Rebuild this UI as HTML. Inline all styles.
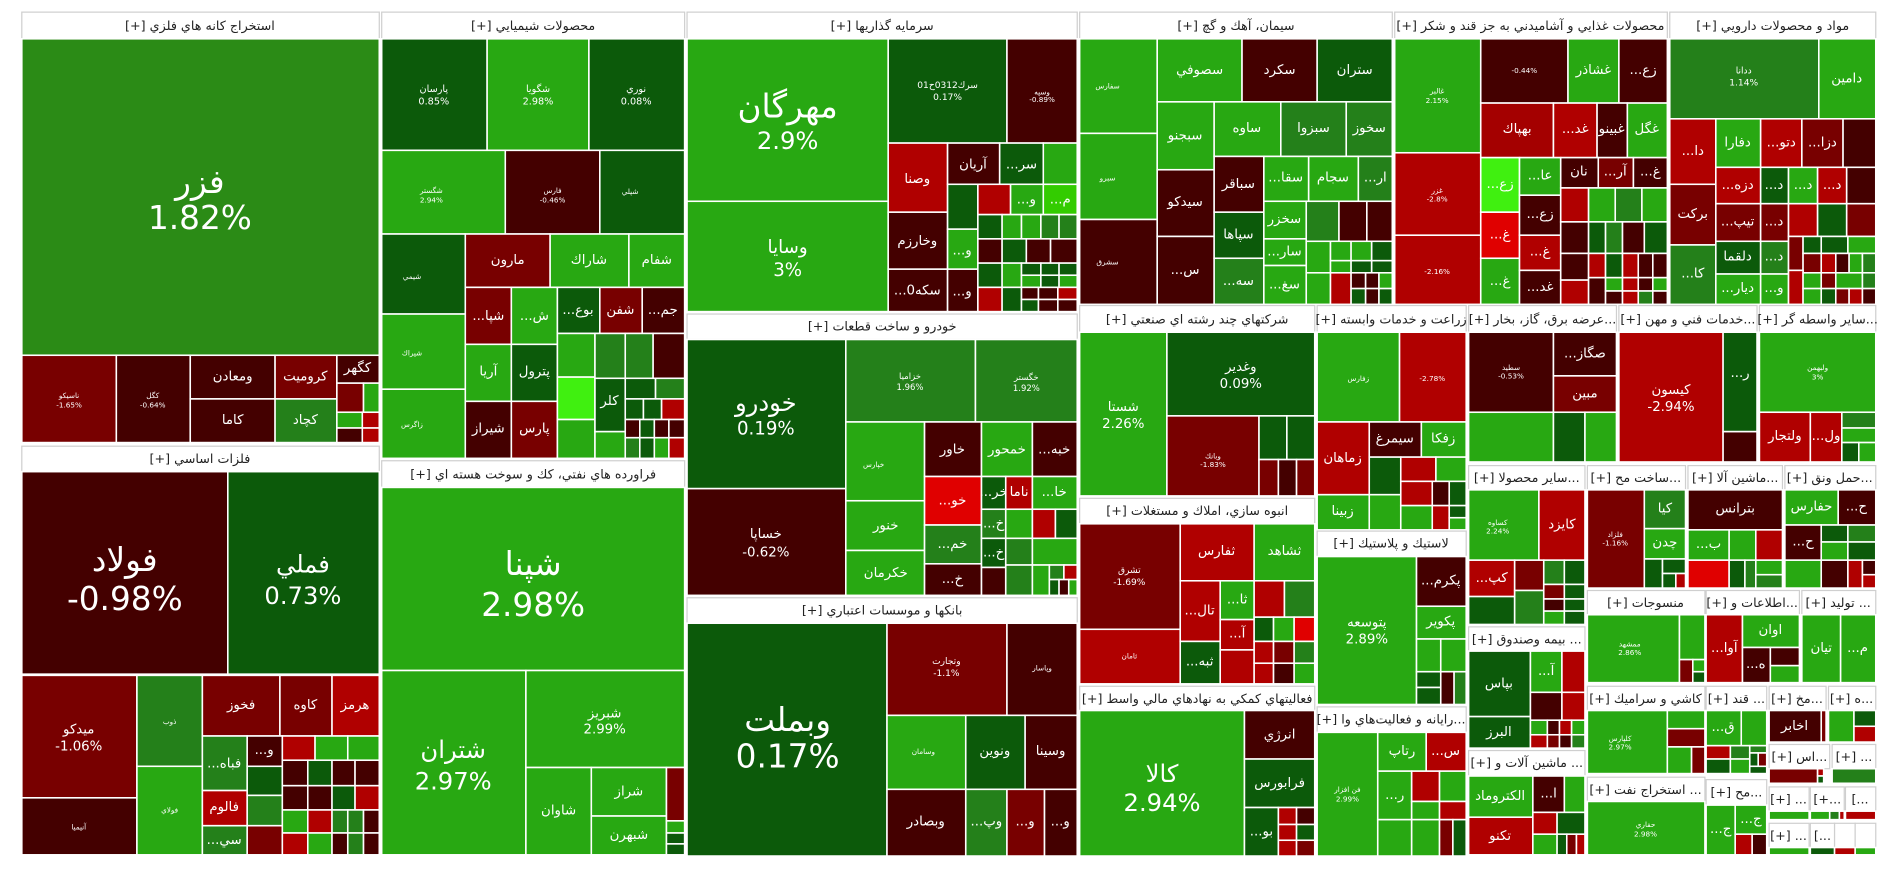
<!DOCTYPE html>
<html><head><meta charset="utf-8"><style>
html,body{margin:0;padding:0;background:#fff;width:1900px;height:873px;overflow:hidden}
svg{display:block}
rect{stroke:#fff;stroke-width:1.3}
.dg{fill:#0c5a0a}.mg{fill:#24801a}.bg{fill:#28a812}.fz{fill:#2b8b16}
.dr{fill:#440000}.mr{fill:#780000}.br{fill:#b00000}.lg{fill:#40f010}.rd{fill:#e00000}
.hd{fill:#fff;stroke:#cfcfcf;stroke-width:1}
text{fill:#fff;font-family:"DejaVu Sans","Liberation Sans",sans-serif;text-anchor:middle;dominant-baseline:central}
text.h{fill:#222;font-size:10.5px;direction:rtl;unicode-bidi:embed}
.s{font-size:11px}.xs{font-size:6px}.m{font-size:15px}.l{font-size:20px}.xl{font-size:27px}
</style></head><body>
<svg width="1900" height="873" viewBox="0 0 1568 720" preserveAspectRatio="none" xmlns="http://www.w3.org/2000/svg">
<!-- Panel 1 -->
<rect class="hd" x="18" y="10" width="295" height="22"/><text class="h" x="165" y="21">استخراج كانه هاي فلزي [+]</text>
<rect class="fz" x="18" y="32" width="295" height="261"/><text class="xl" x="165" y="150">فزر</text><text class="xl" x="165" y="180">1.82%</text>
<rect class="mr" x="18" y="293" width="78" height="72"/><text class="xs" x="57" y="326">ناسيكو</text><text class="xs" x="57" y="334">-1.65%</text>
<rect class="dr" x="96" y="293" width="61" height="72"/><text class="xs" x="126" y="326">كگل</text><text class="xs" x="126" y="334">-0.64%</text>
<rect class="dr" x="157" y="293" width="70" height="36"/><text class="s" x="192" y="311">ومعادن</text>
<rect class="dr" x="157" y="329" width="70" height="36"/><text class="s" x="192" y="347">كاما</text>
<rect class="mr" x="227" y="293" width="51" height="36"/><text class="s" x="252" y="311">كروميت</text>
<rect class="mg" x="227" y="329" width="51" height="36"/><text class="s" x="252" y="347">كچاد</text>
<rect class="dr" x="278" y="293" width="35" height="23"/><text class="s" x="295" y="304">كگهر</text>
<rect class="mr" x="278" y="316" width="22" height="24"/><rect class="bg" x="300" y="316" width="13" height="24"/>
<rect class="bg" x="278" y="340" width="21" height="13"/><rect class="br" x="299" y="340" width="14" height="13"/>
<rect class="dr" x="278" y="353" width="21" height="12"/><rect class="br" x="299" y="353" width="14" height="12"/>
<!-- Felezat asasi -->
<rect class="hd" x="18" y="368" width="295" height="21"/><text class="h" x="165" y="378">فلزات اساسي [+]</text>
<rect class="dr" x="18" y="389" width="170" height="167"/><text class="xl" x="103" y="462">فولاد</text><text class="xl" x="103" y="494">-0.98%</text>
<rect class="dg" x="188" y="389" width="125" height="167"/><text class="l" x="250" y="465">فملي</text><text class="l" x="250" y="491">0.73%</text>
<rect class="mr" x="18" y="557" width="95" height="101"/><text class="s" x="65" y="602">ميدكو</text><text class="s" x="65" y="616">-1.06%</text>
<rect class="dr" x="18" y="658" width="95" height="47"/><text class="xs" x="65" y="682">آنيميا</text>
<rect class="mg" x="113" y="557" width="54" height="75"/><text class="xs" x="140" y="595">ذوب</text>
<rect class="bg" x="113" y="632" width="54" height="73"/><text class="xs" x="140" y="668">فولاي</text>
<rect class="mr" x="167" y="557" width="64" height="50"/><text class="s" x="199" y="582">فخوز</text>
<rect class="mr" x="231" y="557" width="43" height="50"/><text class="s" x="252" y="582">كاوه</text>
<rect class="br" x="274" y="557" width="39" height="50"/><text class="s" x="293" y="582">هرمز</text>
<rect class="mg" x="167" y="607" width="37" height="45"/><text class="s" x="185" y="630">...فباه</text>
<rect class="br" x="167" y="652" width="37" height="29"/><text class="s" x="185" y="666">فالوم</text>
<rect class="mg" x="167" y="681" width="37" height="24"/><text class="s" x="185" y="693">...سي</text>
<rect class="dr" x="204" y="607" width="29" height="25"/><text class="s" x="218" y="619">...و</text>
<rect class="dg" x="204" y="632" width="29" height="24"/><rect class="mg" x="204" y="656" width="29" height="25"/><rect class="mr" x="204" y="681" width="29" height="24"/>
<rect class="br" x="233" y="607" width="27" height="20"/><rect class="bg" x="260" y="607" width="27" height="20"/><rect class="bg" x="287" y="607" width="26" height="20"/>
<rect class="dr" x="233" y="627" width="21" height="21"/><rect class="dg" x="254" y="627" width="20" height="21"/><rect class="dr" x="274" y="627" width="19" height="21"/><rect class="dr" x="293" y="627" width="20" height="21"/>
<rect class="dr" x="233" y="648" width="21" height="20"/><rect class="dr" x="254" y="648" width="20" height="20"/><rect class="dg" x="274" y="648" width="19" height="20"/><rect class="br" x="293" y="648" width="20" height="20"/>
<rect class="bg" x="233" y="668" width="21" height="19"/><rect class="br" x="254" y="668" width="20" height="19"/><rect class="mg" x="274" y="668" width="13" height="19"/><rect class="mg" x="287" y="668" width="13" height="19"/><rect class="dr" x="300" y="668" width="13" height="19"/>
<rect class="br" x="233" y="687" width="21" height="18"/><rect class="bg" x="254" y="687" width="20" height="18"/><rect class="dr" x="274" y="687" width="13" height="18"/><rect class="mg" x="287" y="687" width="13" height="18"/><rect class="dr" x="300" y="687" width="13" height="18"/>
<!-- Chemicals -->
<rect class="hd" x="315" y="10" width="250" height="22"/><text class="h" x="440" y="21">محصولات شيميايي [+]</text>
<rect class="dg" x="315" y="32" width="87" height="92"/><text class="xs" x="358" y="74" style="font-size:8px">پارسان</text><text class="xs" x="358" y="84" style="font-size:8px">0.85%</text>
<rect class="bg" x="402" y="32" width="84" height="92"/><text class="xs" x="444" y="74" style="font-size:8px">شگويا</text><text class="xs" x="444" y="84" style="font-size:8px">2.98%</text>
<rect class="dg" x="486" y="32" width="79" height="92"/><text class="xs" x="525" y="74" style="font-size:8px">نوري</text><text class="xs" x="525" y="84" style="font-size:8px">0.08%</text>
<rect class="bg" x="315" y="124" width="102" height="69"/><text class="xs" x="356" y="157">شگستر</text><text class="xs" x="356" y="165">2.94%</text>
<rect class="dr" x="417" y="124" width="78" height="69"/><text class="xs" x="456" y="157">فارس</text><text class="xs" x="456" y="165">-0.46%</text>
<rect class="dg" x="495" y="124" width="70" height="69"/><text class="xs" x="520" y="158">شپلي</text>
<rect class="dg" x="315" y="193" width="69" height="66"/><text class="xs" x="340" y="228">شيمي</text>
<rect class="bg" x="315" y="259" width="69" height="62"/><text class="xs" x="340" y="291">شيراك</text>
<rect class="bg" x="315" y="321" width="69" height="57"/><text class="xs" x="340" y="350">زاگرس</text>
<rect class="mr" x="384" y="193" width="70" height="44"/><text class="s" x="419" y="215">مارون</text>
<rect class="bg" x="454" y="193" width="65" height="44"/><text class="s" x="486" y="215">شاراك</text>
<rect class="bg" x="519" y="193" width="46" height="44"/><text class="s" x="542" y="215">شفام</text>
<rect class="mr" x="384" y="237" width="38" height="47"/><text class="s" x="403" y="261">...شپا</text>
<rect class="bg" x="422" y="237" width="38" height="47"/><text class="s" x="441" y="261">...ش</text>
<rect class="dg" x="460" y="237" width="35" height="38"/><text class="s" x="477" y="256">...بوع</text>
<rect class="mr" x="495" y="237" width="35" height="38"/><text class="s" x="512" y="256">شفن</text>
<rect class="dr" x="530" y="237" width="35" height="38"/><text class="s" x="547" y="256">...جم</text>
<rect class="bg" x="384" y="284" width="38" height="47"/><text class="s" x="403" y="307">آريا</text>
<rect class="dr" x="384" y="331" width="38" height="47"/><text class="s" x="403" y="354">شيراز</text>
<rect class="dg" x="422" y="284" width="38" height="47"/><text class="s" x="441" y="307">پترول</text>
<rect class="mr" x="422" y="331" width="38" height="47"/><text class="s" x="441" y="354">پارس</text>
<rect class="bg" x="460" y="275" width="31" height="36"/><rect class="lg" x="460" y="311" width="31" height="35"/><rect class="bg" x="460" y="346" width="31" height="32"/>
<rect class="mg" x="491" y="275" width="25" height="37"/><rect class="mg" x="516" y="275" width="23" height="37"/><rect class="dr" x="539" y="275" width="26" height="37"/>
<rect class="dg" x="491" y="312" width="25" height="44"/><text class="s" x="503" y="331">كلر</text>
<rect class="dg" x="516" y="312" width="25" height="17"/><rect class="mg" x="541" y="312" width="24" height="17"/>
<rect class="dg" x="516" y="329" width="15" height="17"/><rect class="dg" x="531" y="329" width="15" height="17"/><rect class="br" x="546" y="329" width="19" height="17"/>
<rect class="bg" x="491" y="356" width="25" height="22"/>
<rect class="dr" x="516" y="346" width="12" height="15"/><rect class="dg" x="528" y="346" width="12" height="15"/><rect class="dr" x="540" y="346" width="12" height="15"/><rect class="dr" x="552" y="346" width="13" height="15"/>
<rect class="mg" x="516" y="361" width="12" height="17"/><rect class="dg" x="528" y="361" width="12" height="17"/><rect class="bg" x="540" y="361" width="12" height="17"/><rect class="br" x="552" y="361" width="13" height="17"/>
<!-- Petroleum -->
<rect class="hd" x="315" y="380" width="250" height="22"/><text class="h" x="440" y="391">فراورده هاي نفتي، كك و سوخت هسته اي [+]</text>
<rect class="bg" x="315" y="402" width="250" height="151"/><text class="xl" x="440" y="465">شپنا</text><text class="xl" x="440" y="499">2.98%</text>
<rect class="bg" x="315" y="553" width="119" height="152"/><text class="l" x="374" y="618">شتران</text><text class="l" x="374" y="644">2.97%</text>
<rect class="bg" x="434" y="553" width="131" height="80"/><text class="s" x="499" y="589">شبريز</text><text class="s" x="499" y="602">2.99%</text>
<rect class="bg" x="434" y="633" width="54" height="72"/><text class="s" x="461" y="669">شاوان</text>
<rect class="bg" x="488" y="633" width="62" height="40"/><text class="s" x="519" y="653">شراز</text>
<rect class="bg" x="488" y="673" width="62" height="32"/><text class="s" x="519" y="689">شبهرن</text>
<rect class="mr" x="550" y="633" width="15" height="44"/><rect class="bg" x="550" y="677" width="15" height="10"/><rect class="dg" x="550" y="687" width="15" height="9"/><rect class="dg" x="550" y="696" width="15" height="9"/>
<!-- Sarmayeh -->
<rect class="hd" x="567" y="10" width="322" height="22"/><text class="h" x="728" y="21">سرمايه گذاريها [+]</text>
<rect class="bg" x="567" y="32" width="166" height="134"/><text class="xl" x="650" y="88">مهرگان</text><text class="l" x="650" y="116">2.9%</text>
<rect class="bg" x="567" y="166" width="166" height="91"/><text class="m" x="650" y="204">وسايا</text><text class="m" x="650" y="223">3%</text>
<rect class="dg" x="733" y="32" width="98" height="86"/><text class="xs" x="782" y="71" style="font-size:7.5px">سرك0312ح01</text><text class="xs" x="782" y="81" style="font-size:7.5px">0.17%</text>
<rect class="dr" x="831" y="32" width="58" height="86"/><text class="xs" x="860" y="76">وسپه</text><text class="xs" x="860" y="82">-0.89%</text>
<rect class="br" x="733" y="118" width="49" height="57"/><text class="s" x="757" y="148">وصنا</text>
<rect class="dr" x="782" y="118" width="43" height="34"/><text class="s" x="803" y="136">آريان</text>
<rect class="dg" x="825" y="118" width="36" height="34"/><text class="s" x="843" y="136">...سر</text>
<rect class="bg" x="861" y="118" width="28" height="34"/>
<rect class="dr" x="733" y="175" width="49" height="47"/><text class="s" x="757" y="199">وخارزم</text>
<rect class="dr" x="733" y="222" width="49" height="35"/><text class="s" x="757" y="240">...سكه0</text>
<rect class="dg" x="782" y="152" width="25" height="37"/><rect class="bg" x="782" y="189" width="25" height="33"/><text class="s" x="794" y="207">...و</text>
<rect class="dr" x="782" y="222" width="25" height="35"/><text class="s" x="794" y="241">...و</text>
<rect class="br" x="807" y="152" width="27" height="25"/><rect class="bg" x="834" y="152" width="27" height="25"/><text class="s" x="847" y="165">...و</text>
<rect style="fill:#33cc00" x="861" y="152" width="28" height="25"/><text class="s" x="875" y="165">...م</text>
<rect class="dg" x="807" y="177" width="20" height="20"/><rect class="bg" x="827" y="177" width="16" height="20"/><rect class="bg" x="843" y="177" width="16" height="20"/><rect class="mg" x="859" y="177" width="15" height="20"/><rect class="mg" x="874" y="177" width="15" height="20"/>
<rect class="dr" x="807" y="197" width="20" height="20"/><rect class="dg" x="827" y="197" width="20" height="20"/><rect class="dr" x="847" y="197" width="20" height="20"/><rect class="dr" x="867" y="197" width="22" height="20"/>
<rect class="dg" x="807" y="217" width="20" height="20"/><rect class="bg" x="827" y="217" width="16" height="20"/><rect class="dg" x="843" y="217" width="16" height="10"/><rect class="dg" x="859" y="217" width="15" height="10"/><rect class="dg" x="874" y="217" width="15" height="10"/>
<rect class="bg" x="843" y="227" width="16" height="10"/><rect class="dg" x="859" y="227" width="15" height="10"/><rect class="bg" x="874" y="227" width="15" height="10"/>
<rect class="br" x="807" y="237" width="20" height="20"/><rect class="dg" x="827" y="237" width="16" height="20"/><rect class="dr" x="843" y="237" width="14" height="10"/><rect class="dr" x="857" y="237" width="16" height="10"/><rect class="br" x="873" y="237" width="16" height="10"/>
<rect class="dg" x="843" y="247" width="14" height="10"/><rect class="dr" x="857" y="247" width="16" height="10"/><rect class="dr" x="873" y="247" width="16" height="10"/>
<!-- Khodro -->
<rect class="hd" x="567" y="259" width="322" height="21"/><text class="h" x="728" y="269">خودرو و ساخت قطعات [+]</text>
<rect class="dg" x="567" y="280" width="131" height="123"/><text class="l" x="632" y="332">خودرو</text><text class="m" x="632" y="354">0.19%</text>
<rect class="dr" x="567" y="403" width="131" height="88"/><text class="s" x="632" y="441">خساپا</text><text class="s" x="632" y="456">-0.62%</text>
<rect class="mg" x="698" y="280" width="107" height="68"/><text class="xs" x="751" y="310" style="font-size:7px">خزاميا</text><text class="xs" x="751" y="319" style="font-size:7px">1.96%</text>
<rect class="mg" x="805" y="280" width="84" height="68"/><text class="xs" x="847" y="311" style="font-size:7px">خگستر</text><text class="xs" x="847" y="320" style="font-size:7px">1.92%</text>
<rect class="bg" x="698" y="348" width="65" height="65"/><text class="xs" x="721" y="383">خپارس</text>
<rect class="bg" x="698" y="413" width="65" height="41"/><text class="s" x="731" y="434">خنور</text>
<rect class="bg" x="698" y="454" width="65" height="37"/><text class="s" x="731" y="473">خكرمان</text>
<rect class="dr" x="763" y="348" width="47" height="45"/><text class="s" x="786" y="371">خاور</text>
<rect class="bg" x="810" y="348" width="42" height="45"/><text class="s" x="831" y="371">خمحور</text>
<rect class="dr" x="852" y="348" width="37" height="45"/><text class="s" x="870" y="371">...خبه</text>
<rect class="rd" x="763" y="393" width="47" height="40"/><text class="s" x="786" y="413">...خو</text>
<rect class="mg" x="763" y="433" width="47" height="32"/><text class="s" x="786" y="449">...خم</text>
<rect class="dr" x="763" y="465" width="47" height="26"/><text class="s" x="786" y="478">...خ</text>
<rect class="dg" x="810" y="393" width="20" height="27"/><text class="s" x="820" y="406">...خر</text>
<rect class="br" x="830" y="393" width="22" height="27"/><text class="s" x="841" y="406">ناما</text>
<rect class="bg" x="852" y="393" width="37" height="27"/><text class="s" x="870" y="406">...خا</text>
<rect class="mg" x="810" y="420" width="20" height="24"/><text class="s" x="820" y="432">...خ</text>
<rect class="dg" x="810" y="444" width="20" height="24"/><text class="s" x="820" y="456">...خ</text>
<rect class="bg" x="830" y="420" width="22" height="24"/><rect class="br" x="852" y="420" width="19" height="24"/><rect class="dg" x="871" y="420" width="18" height="24"/>
<rect class="mg" x="830" y="444" width="22" height="22"/><rect class="bg" x="852" y="444" width="37" height="22"/>
<rect class="dr" x="810" y="468" width="20" height="23"/><rect class="mg" x="830" y="466" width="22" height="25"/><rect class="bg" x="852" y="466" width="14" height="25"/>
<rect class="mg" x="866" y="466" width="12" height="12"/><rect class="br" x="878" y="466" width="11" height="12"/><rect class="dg" x="866" y="478" width="8" height="13"/><rect class="dr" x="874" y="478" width="8" height="13"/><rect class="bg" x="882" y="478" width="7" height="13"/>
<!-- Banks -->
<rect class="hd" x="567" y="493" width="322" height="21"/><text class="h" x="728" y="503">بانكها و موسسات اعتباري [+]</text>
<rect class="dg" x="567" y="514" width="165" height="192"/><text class="xl" x="650" y="594">وبملت</text><text class="xl" x="650" y="624">0.17%</text>
<rect class="mr" x="732" y="514" width="99" height="76"/><text class="xs" x="781" y="546" style="font-size:7.5px">وتجارت</text><text class="xs" x="781" y="556" style="font-size:7.5px">-1.1%</text>
<rect class="dr" x="831" y="514" width="58" height="76"/><text class="xs" x="860" y="551">وپاسار</text>
<rect class="bg" x="732" y="590" width="65" height="61"/><text class="xs" x="762" y="620">وسامان</text>
<rect class="dg" x="797" y="590" width="49" height="61"/><text class="s" x="821" y="620">ونوين</text>
<rect class="dr" x="846" y="590" width="43" height="61"/><text class="s" x="867" y="620">وسينا</text>
<rect class="dr" x="732" y="651" width="65" height="55"/><text class="s" x="764" y="678">وبصادر</text>
<rect class="mg" x="797" y="651" width="34" height="55"/><text class="s" x="814" y="678">...وپ</text>
<rect class="mr" x="831" y="651" width="31" height="55"/><text class="s" x="846" y="678">...و</text>
<rect class="dr" x="862" y="651" width="27" height="55"/><text class="s" x="875" y="678">...و</text>
<!-- Cement -->
<rect class="hd" x="891" y="10" width="258" height="22"/><text class="h" x="1020" y="21">سيمان، آهك و گچ [+]</text>
<rect class="bg" x="891" y="32" width="64" height="78"/><text class="xs" x="914" y="71">سفارس</text>
<rect class="bg" x="891" y="110" width="64" height="71"/><text class="xs" x="914" y="147">سبرو</text>
<rect class="dr" x="891" y="181" width="64" height="70"/><text class="xs" x="914" y="216">سشرق</text>
<rect class="bg" x="955" y="32" width="70" height="52"/><text class="s" x="990" y="58">سصوفي</text>
<rect class="dr" x="1025" y="32" width="62" height="52"/><text class="s" x="1056" y="58">سكرد</text>
<rect class="dg" x="1087" y="32" width="62" height="52"/><text class="s" x="1118" y="58">ستران</text>
<rect class="bg" x="955" y="84" width="47" height="56"/><text class="s" x="978" y="112">سبجنو</text>
<rect class="bg" x="1002" y="84" width="55" height="45"/><text class="s" x="1029" y="106">ساوه</text>
<rect class="mg" x="1057" y="84" width="54" height="45"/><text class="s" x="1084" y="106">سبزوا</text>
<rect class="mg" x="1111" y="84" width="38" height="45"/><text class="s" x="1130" y="106">سخوز</text>
<rect class="dr" x="955" y="140" width="47" height="55"/><text class="s" x="978" y="167">سيدكو</text>
<rect class="dr" x="955" y="195" width="47" height="56"/><text class="s" x="978" y="223">...س</text>
<rect class="dr" x="1002" y="129" width="41" height="46"/><text class="s" x="1022" y="152">سباقر</text>
<rect class="dg" x="1002" y="175" width="41" height="38"/><text class="s" x="1022" y="194">سپاها</text>
<rect class="mg" x="1002" y="213" width="41" height="38"/><text class="s" x="1022" y="232">...سه</text>
<rect class="bg" x="1043" y="129" width="37" height="37"/><text class="s" x="1061" y="147">...سقا</text>
<rect class="bg" x="1080" y="129" width="41" height="37"/><text class="s" x="1100" y="147">سجام</text>
<rect class="mg" x="1121" y="129" width="28" height="37"/><text class="s" x="1135" y="147">...ار</text>
<rect class="bg" x="1043" y="166" width="35" height="31"/><text class="s" x="1060" y="181">سخزر</text>
<rect class="bg" x="1043" y="197" width="35" height="22"/><text class="s" x="1060" y="208">...سار</text>
<rect class="bg" x="1043" y="219" width="35" height="32"/><text class="s" x="1060" y="235">...سغ</text>
<rect class="mg" x="1078" y="166" width="27" height="33"/><rect class="dr" x="1105" y="166" width="23" height="33"/><rect class="dr" x="1128" y="166" width="21" height="33"/>
<rect class="bg" x="1078" y="199" width="20" height="26"/><rect class="bg" x="1098" y="199" width="17" height="16"/><rect class="bg" x="1115" y="199" width="17" height="16"/><rect class="dg" x="1132" y="199" width="17" height="16"/>
<rect class="bg" x="1098" y="215" width="17" height="10"/><rect class="dg" x="1115" y="215" width="17" height="10"/><rect class="dg" x="1132" y="215" width="17" height="10"/>
<rect class="bg" x="1078" y="225" width="20" height="26"/><rect class="br" x="1098" y="225" width="17" height="26"/><rect class="dr" x="1115" y="225" width="12" height="13"/><rect class="dr" x="1127" y="225" width="11" height="13"/><rect class="bg" x="1138" y="225" width="11" height="13"/>
<rect class="dg" x="1115" y="238" width="12" height="13"/><rect class="dr" x="1127" y="238" width="11" height="13"/><rect class="dg" x="1138" y="238" width="11" height="13"/>
<!-- Food -->
<rect class="hd" x="1151" y="10" width="225" height="22"/><text class="h" x="1263" y="21">محصولات غذايي و آشاميدني به جز قند و شكر [+]</text>
<rect class="bg" x="1151" y="32" width="71" height="94"/><text class="xs" x="1186" y="75">غالبر</text><text class="xs" x="1186" y="83">2.15%</text>
<rect class="br" x="1151" y="126" width="71" height="68"/><text class="xs" x="1186" y="157">غزر</text><text class="xs" x="1186" y="164">-2.8%</text>
<rect class="br" x="1151" y="194" width="71" height="57"/><text class="xs" x="1186" y="224">-2.16%</text>
<rect class="dr" x="1222" y="32" width="72" height="53"/><text class="xs" x="1258" y="58">-0.44%</text>
<rect class="bg" x="1294" y="32" width="42" height="53"/><text class="s" x="1315" y="58">غشاذر</text>
<rect class="dr" x="1336" y="32" width="40" height="53"/><text class="s" x="1356" y="58">...زع</text>
<rect style="fill:#a40000" x="1222" y="85" width="60" height="45"/><text class="s" x="1252" y="107">بهپاك</text>
<rect class="br" x="1282" y="85" width="36" height="45"/><text class="s" x="1300" y="107">...غد</text>
<rect class="dr" x="1318" y="85" width="25" height="45"/><text class="s" x="1330" y="107">غبينو</text>
<rect class="bg" x="1343" y="85" width="33" height="45"/><text class="s" x="1359" y="107">غگل</text>
<rect class="lg" x="1222" y="130" width="32" height="45"/><text class="s" x="1238" y="152">...زع</text>
<rect class="rd" x="1222" y="175" width="32" height="38"/><text class="s" x="1238" y="194">...غ</text>
<rect class="bg" x="1222" y="213" width="32" height="38"/><text class="s" x="1238" y="232">...غ</text>
<rect class="bg" x="1254" y="130" width="34" height="31"/><text class="s" x="1271" y="145">...عا</text>
<rect class="dr" x="1254" y="161" width="34" height="33"/><text class="s" x="1271" y="177">...زع</text>
<rect class="br" x="1254" y="194" width="34" height="29"/><text class="s" x="1271" y="208">...غ</text>
<rect class="dr" x="1254" y="223" width="34" height="28"/><text class="s" x="1271" y="237">...غد</text>
<rect class="dr" x="1288" y="130" width="31" height="25"/><text class="s" x="1303" y="142">نان</text>
<rect class="mr" x="1319" y="130" width="29" height="25"/><text class="s" x="1333" y="142">...آر</text>
<rect class="dr" x="1348" y="130" width="28" height="25"/><text class="s" x="1362" y="142">...غ</text>
<rect class="br" x="1288" y="155" width="23" height="28"/><rect class="bg" x="1311" y="155" width="22" height="28"/><rect class="mg" x="1333" y="155" width="22" height="28"/><rect class="bg" x="1355" y="155" width="21" height="28"/>
<rect class="dr" x="1288" y="183" width="23" height="26"/><rect class="dg" x="1311" y="183" width="14" height="26"/><rect class="mg" x="1325" y="183" width="14" height="26"/><rect class="dr" x="1339" y="183" width="18" height="26"/><rect class="dg" x="1357" y="183" width="19" height="26"/>
<rect class="dr" x="1288" y="209" width="23" height="22"/><rect class="br" x="1311" y="209" width="14" height="20"/><rect class="dg" x="1325" y="209" width="14" height="20"/><rect class="br" x="1339" y="209" width="13" height="20"/><rect class="dr" x="1352" y="209" width="12" height="20"/><rect class="dr" x="1364" y="209" width="12" height="20"/>
<rect class="br" x="1288" y="231" width="23" height="20"/><rect class="dr" x="1311" y="229" width="14" height="22"/><rect class="bg" x="1325" y="229" width="14" height="11"/><rect class="br" x="1339" y="229" width="13" height="11"/><rect class="dr" x="1352" y="229" width="12" height="11"/><rect class="bg" x="1364" y="229" width="12" height="11"/>
<rect class="dr" x="1325" y="240" width="14" height="11"/><rect class="br" x="1339" y="240" width="13" height="11"/><rect class="mg" x="1352" y="240" width="12" height="11"/><rect class="dr" x="1364" y="240" width="12" height="11"/>
<!-- Drugs -->
<rect class="hd" x="1378" y="10" width="170" height="22"/><text class="h" x="1463" y="21">مواد و محصولات دارويي [+]</text>
<rect class="mg" x="1378" y="32" width="123" height="66"/><text class="xs" x="1439" y="59" style="font-size:7.5px">ددانا</text><text class="xs" x="1439" y="69" style="font-size:7.5px">1.14%</text>
<rect class="bg" x="1501" y="32" width="47" height="66"/><text class="s" x="1524" y="65">دامين</text>
<rect class="br" x="1378" y="98" width="38" height="54"/><text class="s" x="1397" y="125">...دا</text>
<rect class="mr" x="1378" y="152" width="38" height="50"/><text class="s" x="1397" y="177">بركت</text>
<rect class="mg" x="1378" y="202" width="38" height="49"/><text class="s" x="1397" y="226">...كا</text>
<rect class="bg" x="1416" y="98" width="37" height="40"/><text class="s" x="1434" y="118">دفارا</text>
<rect class="br" x="1416" y="138" width="37" height="30"/><text class="s" x="1434" y="153">...دزه</text>
<rect class="mr" x="1416" y="168" width="37" height="31"/><text class="s" x="1434" y="183">...تيپ</text>
<rect class="dg" x="1416" y="199" width="37" height="27"/><text class="s" x="1434" y="212">دلقما</text>
<rect class="bg" x="1416" y="226" width="37" height="25"/><text class="s" x="1434" y="238">...ديار</text>
<rect class="br" x="1453" y="98" width="34" height="40"/><text class="s" x="1470" y="118">...دتو</text>
<rect class="mr" x="1487" y="98" width="34" height="40"/><text class="s" x="1504" y="118">...دزا</text>
<rect class="dr" x="1521" y="98" width="27" height="40"/>
<rect class="dg" x="1453" y="138" width="23" height="30"/><text class="s" x="1464" y="153">...د</text>
<rect class="bg" x="1476" y="138" width="24" height="30"/><text class="s" x="1488" y="153">...د</text>
<rect class="br" x="1500" y="138" width="24" height="30"/><text class="s" x="1512" y="153">...د</text>
<rect class="dr" x="1524" y="138" width="24" height="30"/>
<rect class="mr" x="1453" y="168" width="23" height="31"/><text class="s" x="1464" y="183">...د</text>
<rect class="br" x="1476" y="168" width="24" height="27"/><rect class="dg" x="1500" y="168" width="24" height="27"/><rect class="mr" x="1524" y="168" width="24" height="27"/>
<rect class="mg" x="1453" y="199" width="23" height="27"/><text class="s" x="1464" y="212">...د</text>
<rect class="bg" x="1453" y="226" width="23" height="25"/><text class="s" x="1464" y="238">...و</text>
<rect class="mr" x="1476" y="195" width="12" height="28"/><rect class="dg" x="1488" y="195" width="15" height="14"/><rect class="dg" x="1503" y="195" width="22" height="14"/><rect class="bg" x="1525" y="195" width="23" height="14"/>
<rect class="mr" x="1488" y="209" width="15" height="16"/><rect class="br" x="1503" y="209" width="12" height="16"/><rect class="dr" x="1515" y="209" width="11" height="16"/><rect class="bg" x="1526" y="209" width="11" height="16"/><rect class="mg" x="1537" y="209" width="11" height="16"/>
<rect class="br" x="1476" y="223" width="12" height="28"/><rect class="bg" x="1488" y="225" width="15" height="13"/><rect class="mr" x="1503" y="225" width="12" height="13"/><rect class="bg" x="1515" y="225" width="22" height="13"/><rect class="mg" x="1537" y="225" width="11" height="13"/>
<rect class="bg" x="1488" y="238" width="15" height="13"/><rect class="dg" x="1503" y="238" width="12" height="13"/><rect class="mr" x="1515" y="238" width="11" height="13"/><rect class="br" x="1526" y="238" width="11" height="13"/><rect class="dr" x="1537" y="238" width="11" height="13"/>
<!-- Chand reshte -->
<rect class="hd" x="891" y="252" width="194" height="22"/><text class="h" x="988" y="263">شركتهاي چند رشته اي صنعتي [+]</text>
<rect class="bg" x="891" y="274" width="72" height="135"/><text class="s" x="927" y="336">شستا</text><text class="s" x="927" y="350">2.26%</text>
<rect class="dg" x="963" y="274" width="122" height="69"/><text class="s" x="1024" y="303">وغدير</text><text class="s" x="1024" y="317">0.09%</text>
<rect class="mr" x="963" y="343" width="76" height="66"/><text class="xs" x="1001" y="376">وبانك</text><text class="xs" x="1001" y="383">-1.83%</text>
<rect class="dg" x="1039" y="343" width="23" height="36"/><rect class="dg" x="1062" y="343" width="23" height="36"/>
<rect class="mr" x="1039" y="379" width="16" height="30"/><rect class="dr" x="1055" y="379" width="15" height="30"/><rect class="mr" x="1070" y="379" width="15" height="30"/>
<!-- Zeraat -->
<rect class="hd" x="1087" y="252" width="123" height="22"/><text class="h" x="1148" y="263">زراعت و خدمات وابسته [+]</text>
<rect class="bg" x="1087" y="274" width="68" height="74"/><text class="xs" x="1121" y="312">زفارس</text>
<rect class="br" x="1155" y="274" width="55" height="74"/><text class="xs" x="1182" y="312">-2.78%</text>
<rect class="br" x="1087" y="348" width="43" height="60"/><text class="s" x="1108" y="378">زماهان</text>
<rect class="bg" x="1087" y="408" width="43" height="29"/><text class="s" x="1108" y="422">زبينا</text>
<rect class="dr" x="1130" y="348" width="43" height="29"/><text class="s" x="1151" y="362">سيمرغ</text>
<rect class="bg" x="1173" y="348" width="37" height="29"/><text class="s" x="1191" y="362">زفكا</text>
<rect class="dg" x="1130" y="377" width="26" height="31"/><rect class="br" x="1156" y="377" width="29" height="20"/><rect class="bg" x="1185" y="377" width="25" height="20"/>
<rect class="bg" x="1130" y="408" width="26" height="29"/><rect class="br" x="1156" y="397" width="26" height="20"/><rect class="dr" x="1182" y="397" width="14" height="20"/><rect class="dg" x="1196" y="397" width="14" height="20"/>
<rect class="bg" x="1156" y="417" width="26" height="20"/><rect class="br" x="1182" y="417" width="14" height="20"/><rect class="dg" x="1196" y="417" width="14" height="10"/><rect class="bg" x="1196" y="427" width="14" height="10"/>
<!-- Arze bargh -->
<rect class="hd" x="1212" y="252" width="122" height="22"/><text class="h" x="1273" y="263">...عرضه برق، گاز، بخار [+]</text>
<rect class="dr" x="1212" y="274" width="70" height="66"/><text class="xs" x="1247" y="303">سطيد</text><text class="xs" x="1247" y="310">-0.53%</text>
<rect class="dr" x="1282" y="274" width="52" height="36"/><text class="s" x="1308" y="292">...صگاز</text>
<rect class="mr" x="1282" y="310" width="52" height="30"/><text class="s" x="1308" y="325">مبين</text>
<rect class="bg" x="1212" y="340" width="70" height="41"/><rect class="dg" x="1282" y="340" width="26" height="41"/><rect class="bg" x="1308" y="340" width="26" height="41"/>
<!-- Khadamat fanni -->
<rect class="hd" x="1336" y="252" width="114" height="22"/><text class="h" x="1393" y="263">...خدمات فني و مهن [+]</text>
<rect class="br" x="1336" y="274" width="86" height="107"/><text class="s" x="1379" y="322">كيسون</text><text class="s" x="1379" y="336">-2.94%</text>
<rect class="dg" x="1422" y="274" width="28" height="82"/><text class="s" x="1436" y="308">...ر</text>
<rect class="dr" x="1422" y="356" width="28" height="25"/>
<!-- Sayer vasete -->
<rect class="hd" x="1452" y="252" width="96" height="22"/><text class="h" x="1500" y="263">...ساير واسطه گر [+]</text>
<rect class="bg" x="1452" y="274" width="96" height="66"/><text class="xs" x="1500" y="303">ولبهمن</text><text class="xs" x="1500" y="311">3%</text>
<rect class="br" x="1452" y="340" width="42" height="41"/><text class="s" x="1473" y="360">ولتجار</text>
<rect class="br" x="1494" y="340" width="26" height="41"/><text class="s" x="1507" y="360">...ول</text>
<rect class="mg" x="1520" y="340" width="28" height="13"/><rect class="bg" x="1520" y="353" width="28" height="12"/><rect class="dg" x="1520" y="365" width="14" height="16"/><rect class="bg" x="1534" y="365" width="14" height="16"/>
<!-- Anbooh -->
<rect class="hd" x="891" y="411" width="194" height="21"/><text class="h" x="988" y="421">انبوه سازي، املاك و مستغلات [+]</text>
<rect class="mr" x="891" y="432" width="83" height="87"/><text class="xs" x="932" y="471" style="font-size:7.5px">تشرق</text><text class="xs" x="932" y="481" style="font-size:7.5px">-1.69%</text>
<rect class="br" x="891" y="519" width="83" height="45"/><text class="xs" x="932" y="541">ثامان</text>
<rect class="br" x="974" y="432" width="61" height="47"/><text class="s" x="1004" y="455">ثفارس</text>
<rect class="bg" x="1035" y="432" width="50" height="47"/><text class="s" x="1060" y="455">ثشاهد</text>
<rect class="br" x="974" y="479" width="33" height="50"/><text class="s" x="990" y="504">...تال</text>
<rect class="dg" x="974" y="529" width="33" height="35"/><text class="s" x="990" y="546">...ثبه</text>
<rect class="bg" x="1007" y="479" width="28" height="32"/><text class="s" x="1021" y="495">...ثا</text>
<rect class="br" x="1007" y="511" width="28" height="25"/><text class="s" x="1021" y="523">...آ</text>
<rect class="br" x="1007" y="536" width="28" height="28"/>
<rect class="br" x="1035" y="479" width="25" height="30"/><rect class="mg" x="1060" y="479" width="25" height="30"/>
<rect class="dg" x="1035" y="509" width="16" height="20"/><rect class="bg" x="1051" y="509" width="17" height="20"/><rect class="rd" x="1068" y="509" width="17" height="20"/>
<rect class="br" x="1035" y="529" width="16" height="18"/><rect class="mr" x="1051" y="529" width="17" height="18"/><rect class="mg" x="1068" y="529" width="17" height="18"/>
<rect class="br" x="1035" y="547" width="16" height="17"/><rect class="dr" x="1051" y="547" width="17" height="17"/><rect class="bg" x="1068" y="547" width="17" height="17"/>
<!-- Lastik -->
<rect class="hd" x="1087" y="438" width="123" height="21"/><text class="h" x="1148" y="448">لاستيك و پلاستيك [+]</text>
<rect class="bg" x="1087" y="459" width="82" height="122"/><text class="s" x="1128" y="514">پتوسعه</text><text class="s" x="1128" y="528">2.89%</text>
<rect class="dr" x="1169" y="459" width="41" height="41"/><text class="s" x="1189" y="479">...پكرم</text>
<rect class="bg" x="1169" y="500" width="41" height="27"/><text class="s" x="1189" y="513">پكوير</text>
<rect class="bg" x="1169" y="527" width="20" height="27"/><rect class="bg" x="1189" y="527" width="21" height="27"/>
<rect class="dg" x="1169" y="554" width="20" height="13"/><rect class="dg" x="1169" y="567" width="20" height="14"/><rect class="dr" x="1189" y="554" width="11" height="27"/><rect class="mg" x="1200" y="554" width="10" height="27"/>
<!-- Faaliat komaki -->
<rect class="hd" x="891" y="566" width="194" height="20"/><text class="h" x="988" y="576">فعاليتهاي كمكي به نهادهاي مالي واسط [+]</text>
<rect class="bg" x="891" y="586" width="136" height="120"/><text class="l" x="959" y="638">كالا</text><text class="l" x="959" y="662">2.94%</text>
<rect class="dr" x="1027" y="586" width="58" height="40"/><text class="s" x="1056" y="606">انرژي</text>
<rect class="dg" x="1027" y="626" width="58" height="40"/><text class="s" x="1056" y="646">فرابورس</text>
<rect class="dg" x="1027" y="666" width="28" height="40"/><text class="s" x="1041" y="686">...بو</text>
<rect class="br" x="1055" y="666" width="15" height="14"/><rect class="dr" x="1070" y="666" width="15" height="14"/><rect class="br" x="1055" y="680" width="15" height="13"/><rect class="dg" x="1070" y="680" width="15" height="13"/><rect class="br" x="1055" y="693" width="15" height="13"/><rect class="mr" x="1070" y="693" width="15" height="13"/>
<!-- Rayane -->
<rect class="hd" x="1087" y="583" width="123" height="21"/><text class="h" x="1148" y="593">...رايانه و فعاليت‌هاي وا [+]</text>
<rect class="bg" x="1087" y="604" width="50" height="102"/><text class="xs" x="1112" y="651">فن افزار</text><text class="xs" x="1112" y="659">2.99%</text>
<rect class="bg" x="1137" y="604" width="40" height="32"/><text class="s" x="1157" y="620">رتاپ</text>
<rect class="br" x="1177" y="604" width="33" height="32"/><text class="s" x="1193" y="620">...س</text>
<rect class="bg" x="1137" y="636" width="28" height="40"/><text class="s" x="1151" y="656">...ر</text>
<rect class="br" x="1165" y="636" width="23" height="25"/><rect class="bg" x="1188" y="636" width="22" height="25"/>
<rect class="bg" x="1165" y="661" width="23" height="15"/><rect class="br" x="1188" y="661" width="22" height="15"/>
<rect class="bg" x="1137" y="676" width="28" height="30"/><rect class="bg" x="1165" y="676" width="23" height="30"/><rect class="mr" x="1188" y="676" width="11" height="30"/><rect class="dg" x="1199" y="676" width="11" height="30"/>
<!-- Sayer mahsoolat -->
<rect class="hd" x="1212" y="384" width="96" height="20"/><text class="h" x="1260" y="394">...ساير محصولا [+]</text>
<rect class="bg" x="1212" y="404" width="58" height="58"/><text class="xs" x="1236" y="431">كساوه</text><text class="xs" x="1236" y="438">2.24%</text>
<rect class="br" x="1270" y="404" width="38" height="58"/><text class="s" x="1289" y="433">كايزد</text>
<rect class="br" x="1212" y="462" width="38" height="30"/><text class="s" x="1231" y="477">...كپ</text>
<rect class="dg" x="1212" y="492" width="38" height="23"/><rect class="mr" x="1250" y="462" width="24" height="25"/><rect class="mg" x="1250" y="487" width="24" height="28"/>
<rect class="mg" x="1274" y="462" width="17" height="20"/><rect class="dg" x="1291" y="462" width="17" height="20"/><rect class="mr" x="1274" y="482" width="17" height="12"/><rect class="dg" x="1291" y="482" width="17" height="12"/>
<rect class="dr" x="1274" y="494" width="17" height="10"/><rect class="dg" x="1291" y="494" width="17" height="10"/><rect class="bg" x="1274" y="504" width="17" height="11"/><rect class="dg" x="1291" y="504" width="17" height="11"/>
<!-- Bime -->
<rect class="hd" x="1212" y="517" width="96" height="20"/><text class="h" x="1260" y="527">... بيمه وصندوق [+]</text>
<rect class="dg" x="1212" y="537" width="51" height="54"/><text class="s" x="1237" y="564">بپاس</text>
<rect class="dg" x="1212" y="591" width="51" height="26"/><text class="s" x="1237" y="604">البرز</text>
<rect class="bg" x="1263" y="537" width="26" height="34"/><text class="s" x="1276" y="554">...آ</text>
<rect class="br" x="1289" y="537" width="19" height="34"/><rect class="dr" x="1263" y="571" width="26" height="23"/><rect class="br" x="1289" y="571" width="19" height="23"/>
<rect class="bg" x="1263" y="594" width="14" height="12"/><rect class="dr" x="1277" y="594" width="10" height="12"/><rect class="br" x="1287" y="594" width="10" height="12"/><rect class="bg" x="1297" y="594" width="11" height="12"/>
<rect class="br" x="1263" y="606" width="14" height="11"/><rect class="mr" x="1277" y="606" width="10" height="11"/><rect class="dr" x="1287" y="606" width="10" height="11"/><rect class="mg" x="1297" y="606" width="11" height="11"/>
<!-- Mashin alat -->
<rect class="hd" x="1212" y="619" width="96" height="21"/><text class="h" x="1260" y="629">... ماشين آلات و [+]</text>
<rect class="bg" x="1212" y="640" width="53" height="34"/><text class="s" x="1238" y="657">الكتروماد</text>
<rect class="br" x="1212" y="674" width="53" height="31"/><text class="s" x="1238" y="690">تكنو</text>
<rect class="dr" x="1265" y="640" width="26" height="30"/><text class="s" x="1278" y="655">...ا</text>
<rect class="bg" x="1291" y="640" width="17" height="30"/><rect class="br" x="1265" y="670" width="20" height="18"/><rect class="dg" x="1285" y="670" width="23" height="18"/>
<rect class="bg" x="1265" y="688" width="20" height="17"/><rect class="dg" x="1285" y="688" width="8" height="17"/><rect class="mr" x="1293" y="688" width="8" height="17"/><rect class="br" x="1301" y="688" width="7" height="17"/>
<!-- Sakht mahsoolat -->
<rect class="hd" x="1310" y="384" width="81" height="20"/><text class="h" x="1350" y="394">...ساخت مح [+]</text>
<rect class="mr" x="1310" y="404" width="47" height="81"/><text class="xs" x="1333" y="441">فلزاد</text><text class="xs" x="1333" y="448">-1.16%</text>
<rect class="mg" x="1357" y="404" width="34" height="32"/><text class="s" x="1374" y="420">كيا</text>
<rect class="bg" x="1357" y="436" width="34" height="25"/><text class="s" x="1374" y="448">چدن</text>
<rect class="dg" x="1357" y="461" width="15" height="24"/><rect class="dg" x="1372" y="461" width="19" height="12"/><rect class="dg" x="1372" y="473" width="11" height="12"/><rect class="br" x="1383" y="473" width="8" height="12"/>
<!-- Mashin ala -->
<rect class="hd" x="1393" y="384" width="78" height="20"/><text class="h" x="1432" y="394">...ماشين آلا [+]</text>
<rect class="dr" x="1393" y="404" width="78" height="33"/><text class="s" x="1432" y="420">بترانس</text>
<rect class="bg" x="1393" y="437" width="34" height="25"/><text class="s" x="1410" y="449">...ب</text>
<rect class="bg" x="1427" y="437" width="22" height="25"/><rect class="br" x="1449" y="437" width="22" height="25"/>
<rect class="rd" x="1393" y="462" width="34" height="23"/><rect class="dg" x="1427" y="462" width="13" height="23"/><rect class="mg" x="1440" y="462" width="9" height="23"/><rect class="bg" x="1449" y="462" width="22" height="12"/><rect class="mg" x="1449" y="474" width="22" height="11"/>
<!-- Haml -->
<rect class="hd" x="1473" y="384" width="75" height="20"/><text class="h" x="1510" y="394">...حمل ونق [+]</text>
<rect class="bg" x="1473" y="404" width="44" height="29"/><text class="s" x="1495" y="418">حفارس</text>
<rect class="dr" x="1517" y="404" width="31" height="29"/><text class="s" x="1532" y="418">...ح</text>
<rect class="dr" x="1473" y="433" width="30" height="29"/><text class="s" x="1488" y="447">...ح</text>
<rect class="dg" x="1503" y="433" width="22" height="14"/><rect class="mg" x="1525" y="433" width="23" height="14"/><rect class="bg" x="1503" y="447" width="22" height="15"/><rect class="dg" x="1525" y="447" width="23" height="15"/>
<rect class="bg" x="1473" y="462" width="30" height="23"/><rect class="dr" x="1503" y="462" width="22" height="23"/><rect class="br" x="1525" y="462" width="12" height="23"/><rect class="dr" x="1537" y="462" width="11" height="12"/><rect class="br" x="1537" y="474" width="11" height="11"/>
<!-- Mansoojat -->
<rect class="hd" x="1310" y="487" width="97" height="20"/><text class="h" x="1358" y="497">منسوجات [+]</text>
<rect class="bg" x="1310" y="507" width="76" height="56"/><text class="xs" x="1345" y="531">ممشهد</text><text class="xs" x="1345" y="538">2.86%</text>
<rect class="bg" x="1386" y="507" width="21" height="37"/><rect class="mr" x="1386" y="544" width="11" height="19"/><rect class="bg" x="1397" y="544" width="10" height="10"/><rect class="dg" x="1397" y="554" width="10" height="9"/>
<!-- Etelaat -->
<rect class="hd" x="1408" y="487" width="77" height="20"/><text class="h" x="1446" y="497">...اطلاعات و [+]</text>
<rect class="br" x="1408" y="507" width="30" height="56"/><text class="s" x="1423" y="535">...آوا</text>
<rect class="bg" x="1438" y="507" width="47" height="27"/><text class="s" x="1461" y="520">اوان</text>
<rect class="dr" x="1438" y="534" width="23" height="29"/><text class="s" x="1449" y="548">...ه</text>
<rect class="dr" x="1461" y="534" width="24" height="15"/><rect class="bg" x="1461" y="549" width="24" height="14"/>
<!-- Tolid -->
<rect class="hd" x="1487" y="487" width="61" height="20"/><text class="h" x="1517" y="497">... توليد [+]</text>
<rect class="bg" x="1487" y="507" width="32" height="56"/><text class="s" x="1503" y="535">تيان</text>
<rect class="bg" x="1519" y="507" width="29" height="56"/><text class="s" x="1533" y="535">...م</text>
<!-- Kashi -->
<rect class="hd" x="1310" y="566" width="97" height="20"/><text class="h" x="1358" y="576">كاشي و سراميك [+]</text>
<rect class="bg" x="1310" y="586" width="66" height="52"/><text class="xs" x="1337" y="609">كلپارس</text><text class="xs" x="1337" y="616">2.97%</text>
<rect class="bg" x="1376" y="586" width="31" height="15"/><rect class="mr" x="1376" y="601" width="31" height="15"/><rect class="bg" x="1376" y="616" width="20" height="22"/><rect class="mr" x="1396" y="616" width="11" height="22"/>
<!-- Ghand -->
<rect class="hd" x="1408" y="566" width="50" height="20"/><text class="h" x="1433" y="576">... قند [+]</text>
<rect class="bg" x="1408" y="586" width="29" height="29"/><text class="s" x="1422" y="600">...ق</text>
<rect class="bg" x="1437" y="586" width="21" height="29"/><rect class="br" x="1408" y="615" width="20" height="11"/><rect class="mg" x="1428" y="615" width="16" height="11"/><rect class="mg" x="1444" y="615" width="14" height="6"/>
<rect class="dg" x="1444" y="621" width="7" height="11"/><rect class="mr" x="1451" y="621" width="7" height="11"/><rect class="dg" x="1408" y="626" width="20" height="12"/><rect class="bg" x="1428" y="626" width="16" height="12"/><rect class="dg" x="1444" y="632" width="14" height="6"/>
<!-- Makh -->
<rect class="hd" x="1460" y="566" width="47" height="20"/><text class="h" x="1483" y="576">...مخ [+]</text>
<rect class="dr" x="1460" y="586" width="43" height="26"/><text class="s" x="1481" y="599">اخابر</text><rect class="mr" x="1503" y="586" width="4" height="26"/>
<rect class="hd" x="1509" y="566" width="39" height="20"/><text class="h" x="1528" y="576">...ه [+]</text>
<rect class="bg" x="1509" y="586" width="21" height="26"/><rect class="dg" x="1530" y="586" width="18" height="13"/><rect class="br" x="1530" y="599" width="18" height="13"/>
<rect class="hd" x="1460" y="614" width="50" height="20"/><text class="h" x="1485" y="624">...اس [+]</text>
<rect class="mr" x="1460" y="634" width="40" height="12"/><rect class="br" x="1500" y="634" width="5" height="6"/><rect class="dg" x="1500" y="640" width="5" height="6"/>
<rect class="hd" x="1512" y="614" width="36" height="20"/><text class="h" x="1530" y="624">... [+]</text>
<rect class="mg" x="1512" y="634" width="36" height="12"/>
<!-- Naft -->
<rect class="hd" x="1310" y="641" width="97" height="20"/><text class="h" x="1358" y="651">... استخراج نفت [+]</text>
<rect class="bg" x="1310" y="661" width="97" height="44"/><text class="xs" x="1358" y="680">حفاري</text><text class="xs" x="1358" y="688">2.98%</text>
<rect class="hd" x="1408" y="643" width="50" height="21"/><text class="h" x="1433" y="653">...مح [+]</text>
<rect class="bg" x="1408" y="664" width="24" height="41"/><text class="s" x="1420" y="684">...ج</text>
<rect class="bg" x="1432" y="664" width="26" height="24"/><text class="s" x="1445" y="676">...ج</text>
<rect class="br" x="1432" y="688" width="14" height="17"/><rect class="dr" x="1446" y="688" width="12" height="17"/>
<rect class="hd" x="1460" y="649" width="33" height="20"/><text class="h" x="1476" y="659">... [+]</text><rect class="bg" x="1460" y="669" width="33" height="7"/>
<rect class="hd" x="1494" y="649" width="28" height="20"/><text class="h" x="1508" y="659">...+]</text><rect class="bg" x="1494" y="669" width="16" height="7"/><rect class="mg" x="1510" y="669" width="8" height="7"/><rect class="br" x="1518" y="669" width="4" height="7"/>
<rect class="hd" x="1523" y="649" width="25" height="20"/><text class="h" x="1535" y="659">...]</text><rect class="br" x="1523" y="669" width="25" height="7"/>
<rect class="hd" x="1460" y="679" width="33" height="20"/><text class="h" x="1476" y="689">... [+]</text><rect class="bg" x="1460" y="699" width="33" height="6"/>
<rect class="hd" x="1494" y="679" width="20" height="20"/><text class="h" x="1504" y="689">...]</text><rect class="dg" x="1494" y="699" width="20" height="6"/>
<rect class="hd" x="1514" y="679" width="17" height="20"/><rect class="br" x="1514" y="699" width="17" height="6"/>
<rect class="hd" x="1531" y="679" width="17" height="20"/><rect class="bg" x="1531" y="699" width="17" height="6"/>
</svg>
</body></html>
